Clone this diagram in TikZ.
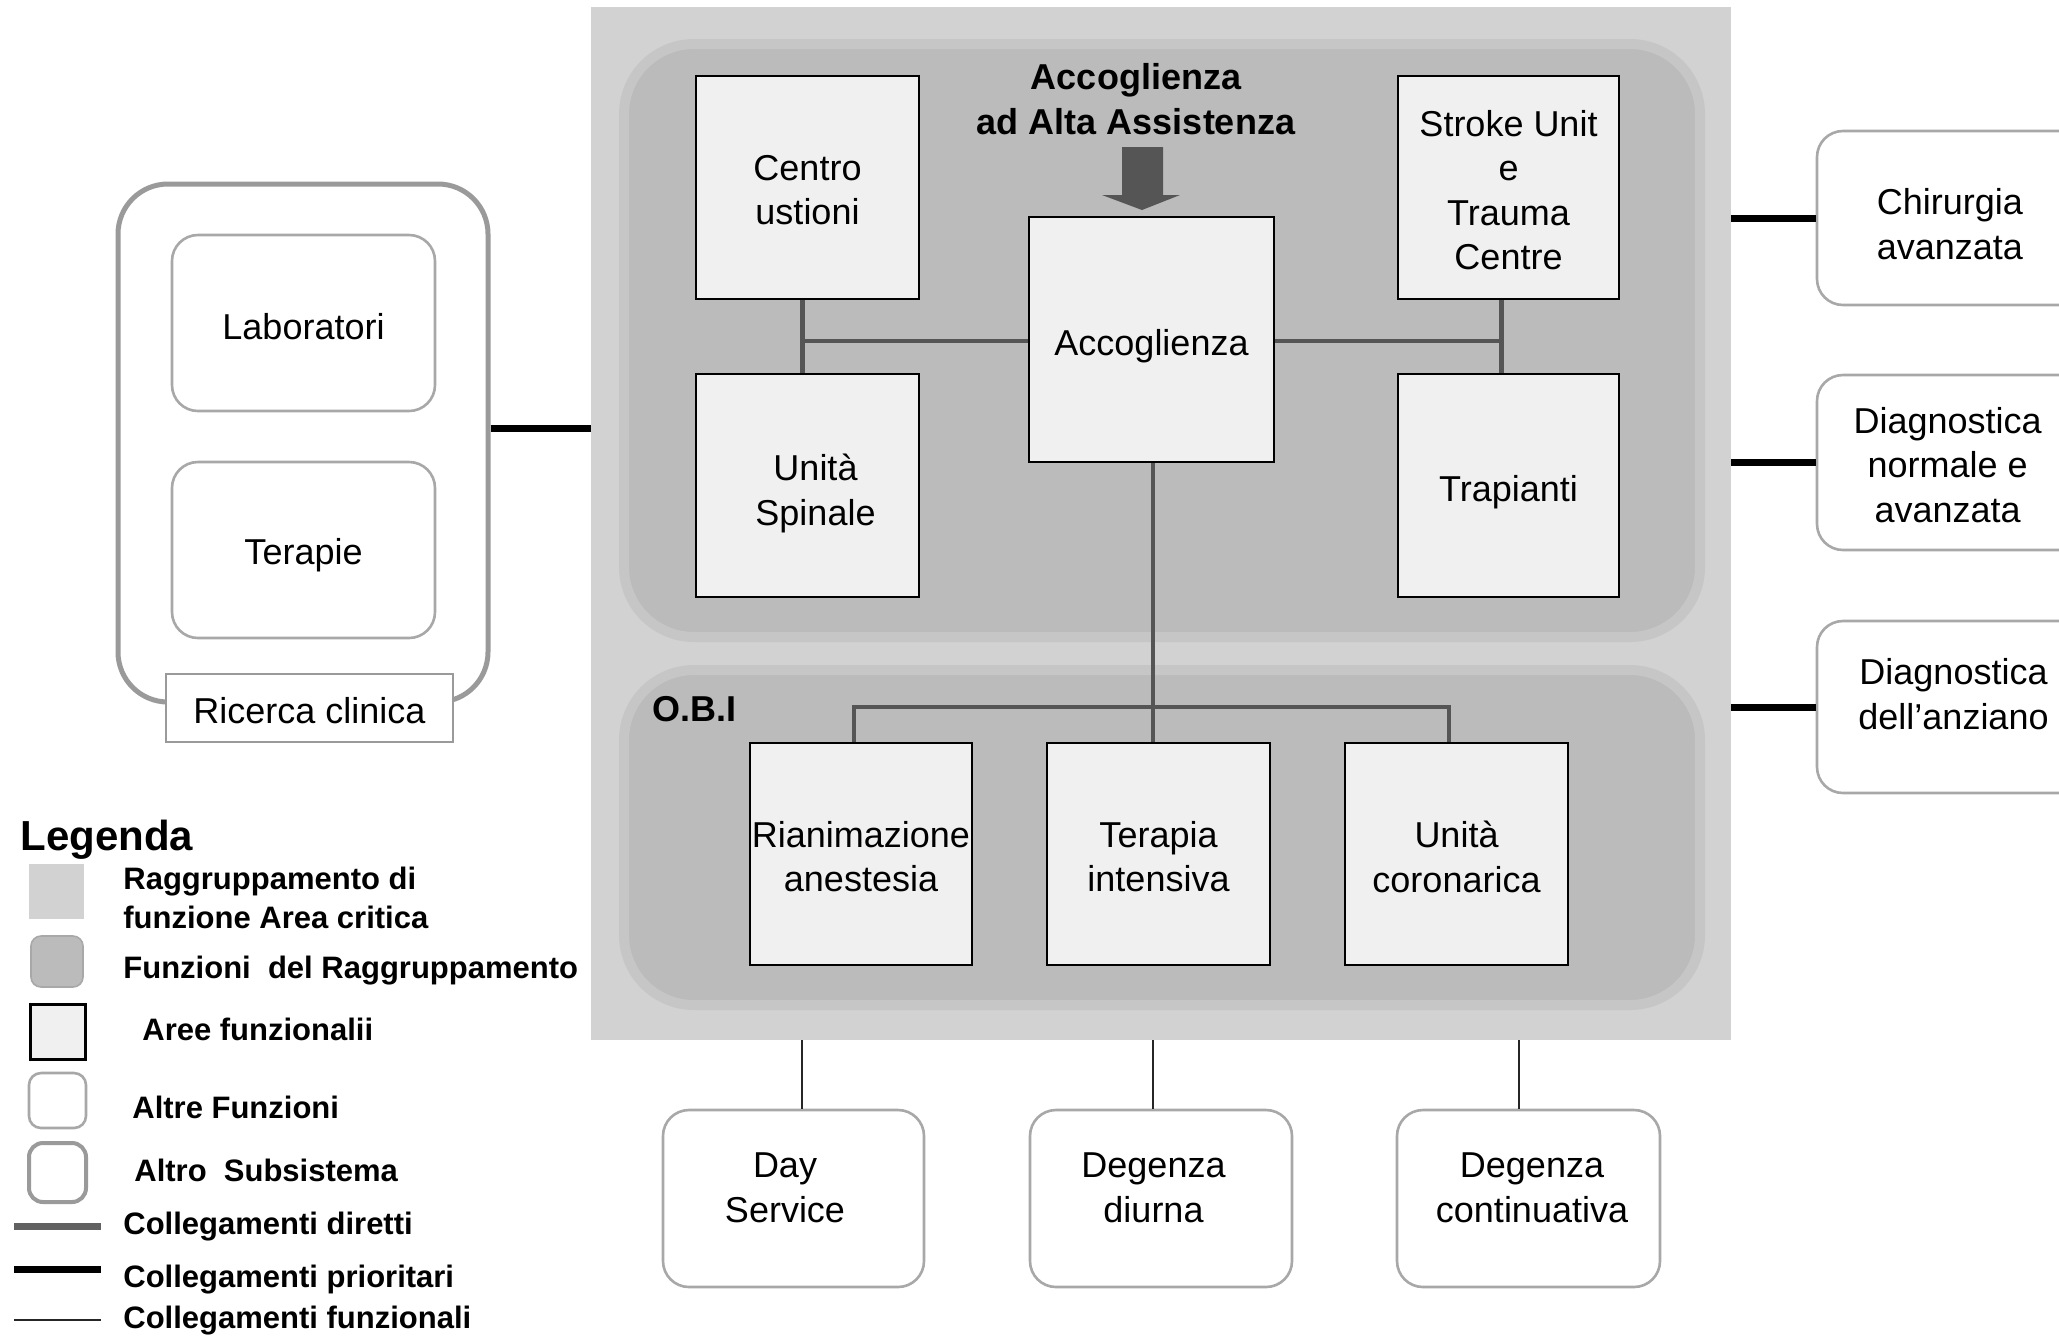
\documentclass[tikz,border=0pt]{standalone}
\usepackage{fontspec}
\setmainfont{Liberation Sans}
\begin{document}
\definecolor{bgfill}{HTML}{D2D2D2}
\definecolor{regfill}{HTML}{BBBBBB}
\definecolor{regedge}{HTML}{C6C6C6}
\definecolor{boxfill}{HTML}{F0F0F0}
\definecolor{altredraw}{HTML}{A8A8A8}
\definecolor{subdraw}{HTML}{9A9A9A}
\definecolor{linkgray}{HTML}{555555}
\definecolor{arrowfill}{HTML}{555555}
\newcommand{\txt}{\fontsize{18}{22.3}\selectfont}
\newcommand{\legtxt}{\fontsize{15.5}{19.5}\selectfont\bfseries}
\begin{tikzpicture}[x=0.5pt,y=-0.5pt,
  every node/.style={inner sep=0pt, align=center, font=\txt},
  tx/.style 2 args={label={[#2]center:{#1}}},
  area/.style={draw=black, line width=1.25pt, fill=boxfill,
    minimum width=111.5pt, minimum height=111.5pt},
  region/.style={fill=regfill, draw=regedge, line width=5pt, rounded corners=35pt},
  altre/.style={draw=altredraw, line width=1.3pt, fill=white, rounded corners=13pt},
  subsys/.style={draw=subdraw, line width=2.5pt, rounded corners=25pt},
  diretto/.style={draw=linkgray, line width=2.2pt},
  prior/.style={draw=black, line width=3.5pt},
  funz/.style={draw=black!85, line width=1pt},
  legitem/.style={anchor=west, font=\legtxt, align=left}]
\useasboundingbox (0,0) rectangle (2059,1335);
\fill[white] (0,0) rectangle (2059,1335);

% ---------- critical area grouping ----------
\node[fill=bgfill, minimum width=570pt, minimum height=516.5pt] (bg) at (1161,523.5) {};
\node[region, minimum width=538pt, minimum height=296.5pt] (fr1) at (1162,340.5) {};
\node[region, minimum width=538pt, minimum height=167.5pt] (fr2) at (1162,837.5) {};

% functional areas
\node[area, tx={Centro\\ustioni}{yshift=-1.3pt}] (cu) at (807.5,187.5) {};
\node[area, tx={Unità\\Spinale}{yshift=-4pt,xshift=4pt}] (us) at (807.5,485.5) {};
\node[area, minimum width=110.5pt, tx={Stroke Unit\\e\\Trauma\\Centre}{yshift=-1.3pt}] (su) at (1508.5,187.5) {};
\node[area, minimum width=110.5pt, tx={Trapianti}{yshift=-3.3pt}] (tr) at (1508.5,485.5) {};
\node[area, minimum width=122.5pt, minimum height=122.5pt, tx={Accoglienza}{yshift=-3.3pt}] (acc) at (1151.5,339.5) {};
\node[area, minimum width=111pt, minimum height=111pt, tx={Rianimazione\\anestesia}{yshift=-1.3pt}] (ri) at (861,854) {};
\node[area, minimum width=111.5pt, minimum height=111pt, tx={Terapia\\intensiva}{yshift=-1.3pt}] (ti) at (1158.5,854) {};
\node[area, minimum width=111.5pt, minimum height=111pt, tx={Unità\\coronarica}{yshift=-1.3pt}] (uc) at (1456.5,854) {};

\node[font=\txt\bfseries] (tit) at (1136,99) {Accoglienza\\ad Alta Assistenza};
\node[font=\txt\bfseries] (obi) at (694,709) {O.B.I};

% entry arrow into the reception
\fill[arrowfill] (1122,147) -- (1163,147) -- (1163,195) -- (1180,195)
  -- (1142,210) -- (1102,195) -- (1122,195) -- cycle;

% direct links
\draw[diretto] ([xshift=-2.5pt]cu.south) -- ([xshift=-2.5pt]us.north);
\draw[diretto] ([xshift=-3.5pt]su.south) -- ([xshift=-3.5pt]tr.north);
\draw[diretto] ([yshift=-0.8pt]acc.west) -- ([yshift=-0.8pt,xshift=-2.5pt]acc.west -| cu.south);
\draw[diretto] ([yshift=-0.8pt]acc.east) -- ([yshift=-0.8pt,xshift=-3.5pt]acc.east -| su.south);
\coordinate (jn) at (1153,707);
\draw[diretto] ([xshift=0.75pt]acc.south) -- ([xshift=-2.75pt]ti.north);
\draw[diretto] ([xshift=-3.5pt]ri.north) |- (jn) -| ([xshift=-3.75pt]uc.north);

% ---------- other functions below ----------
\node[altre, minimum width=130.5pt, minimum height=88.5pt, tx={Day\\Service}{yshift=5.5pt,xshift=-4.25pt}] (ds) at (793.5,1198.5) {};
\node[altre, minimum width=131pt, minimum height=88.5pt, tx={Degenza\\diurna}{yshift=5.5pt,xshift=-3.75pt}] (dd) at (1161,1198.5) {};
\node[altre, minimum width=131.5pt, minimum height=88.5pt, tx={Degenza\\continuativa}{yshift=5.5pt,xshift=1.75pt}] (dc) at (1528.5,1198.5) {};
\draw[funz] ([xshift=4.25pt]ds.north) -- ([xshift=4.25pt]ds.north |- bg.south);
\draw[funz] ([xshift=-4pt]dd.north) -- ([xshift=-4pt]dd.north |- bg.south);
\draw[funz] ([xshift=-4.75pt]dc.north) -- ([xshift=-4.75pt]dc.north |- bg.south);

% ---------- other functions on the right ----------
\node[altre, minimum width=136.5pt, minimum height=87pt, tx={Chirurgia\\avanzata}{yshift=-3pt,xshift=-1.8pt}] (ch) at (1953.5,218) {};
\node[altre, minimum width=136.5pt, minimum height=87.5pt, tx={Diagnostica\\normale e\\avanzata}{yshift=-1.3pt,xshift=-2.9pt}] (dn) at (1953.5,462.5) {};
\node[altre, minimum width=136.5pt, minimum height=86pt, tx={Diagnostica\\dell’anziano}{yshift=6.3pt}] (da) at (1953.5,707) {};
\draw[prior] (ch.west) -- (ch.west -| bg.east);
\draw[prior] (dn.west) -- (dn.west -| bg.east);
\draw[prior] (da.west) -- (da.west -| bg.east);

% ---------- clinical research subsystem ----------
\node[subsys, minimum width=185pt, minimum height=259pt] (sub) at (303,443) {};
\node[altre, minimum width=131.5pt, minimum height=88pt, tx={Laboratori}{yshift=-2pt}] (lab) at (303.5,323) {};
\node[altre, minimum width=131.5pt, minimum height=88pt, tx={Terapie}{yshift=-2.6pt}] (ter) at (303.5,550) {};
\node[fill=white, draw=subdraw, line width=0.8pt, minimum width=143.5pt, minimum height=34pt, tx={Ricerca clinica}{yshift=-1.3pt}] (ric) at (309.5,708) {};
\draw[prior] ([yshift=7.5pt]sub.east) -- ([yshift=7.5pt]sub.east -| bg.west);

% ---------- legend ----------
\node[anchor=west, font=\fontsize{21}{25}\selectfont\bfseries] (leg) at (20,840) {Legenda};
\fill[bgfill] (29,864) rectangle (84,919);
\fill[regfill, draw=altredraw, line width=0.8pt, rounded corners=5pt] (31,936) rectangle (83,987);
\filldraw[fill=boxfill, draw=black, line width=1.5pt] (30,1004) rectangle (85,1059);
\draw[altre, rounded corners=6pt] (29,1073) rectangle (86,1128);
\draw[subsys, line width=2pt, rounded corners=7pt] (29,1143) rectangle (86,1202);
\draw[diretto, line width=3.5pt, draw=black!62] (14,1226) -- (101,1226);
\draw[prior] (14,1269) -- (101,1269);
\draw[funz] (14,1320) -- (101,1320);

\node[legitem] (l1) at (123,898) {Raggruppamento di\\funzione Area critica};
\node[legitem] (l2) at (123,971) {Funzioni\ \ del Raggruppamento};
\node[legitem] (l3) at (142,1029) {Aree funzionalii};
\node[legitem] (l4) at (132,1107) {Altre Funzioni};
\node[legitem] (l5) at (134,1170) {Altro\ \ Subsistema};
\node[legitem] (l6) at (123,1227) {Collegamenti diretti};
\node[legitem] (l7) at (123,1280) {Collegamenti prioritari};
\node[legitem] (l8) at (123,1321) {Collegamenti funzionali};
\end{tikzpicture}
\end{document}
